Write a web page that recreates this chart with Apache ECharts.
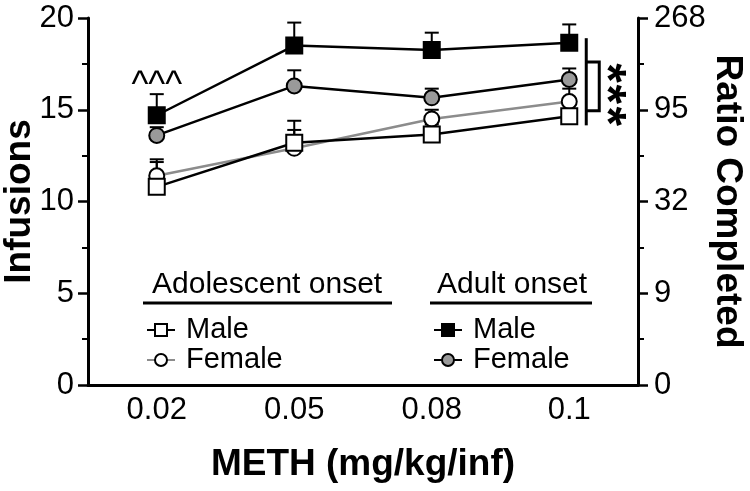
<!DOCTYPE html>
<html>
<head>
<meta charset="utf-8">
<script src="https://cdn.jsdelivr.net/npm/echarts@6/dist/echarts.min.js"></script>
<style>html,body{margin:0;padding:0;background:#fff;}#c{width:750px;height:491px;}</style>
</head>
<body>
<div id="c"></div>
<script>
const categories = ['0.02', '0.05', '0.08', '0.1'];
const adolMale = [10.8, 13.2, 13.65, 14.65];
const adolMaleErr = [1.35, 1.2, 0.55, 0.9];
const adolFemale = [11.4, 12.9, 14.5, 15.45];
const adolFemaleErr = [0.9, 1.0, 0.5, 0.7];
const adultMale = [14.7, 18.5, 18.25, 18.65];
const adultMaleErr = [1.15, 1.25, 0.95, 1.0];
const adultFemale = [13.6, 16.3, 15.65, 16.65];
const adultFemaleErr = [0.45, 0.85, 0.5, 0.6];
const leftTickValues = [0, 5, 10, 15, 20];
const rightTickLabels = ['0', '9', '32', '95', '268'];
const caretValue = 16.3;            // "^^^" annotation height (0.02)
const bracketOuter = [18.9, 14.15]; // long bracket range at 0.1
const bracketInner = [17.6, 14.95]; // inner bracket range at 0.1
const starValues = [17.0, 15.85, 14.65];

const FONT = "'Liberation Sans', Arial, Helvetica, sans-serif";

function errSeries(vals, errs) {
  return {
    type: 'custom',
    z: 1,
    silent: true,
    data: categories.map((c, i) => [i, vals[i], errs[i]]),
    renderItem: function (params, api) {
      const i = api.value(0), v = api.value(1), e = api.value(2);
      const p0 = api.coord([i, v]);
      const p1 = api.coord([i, v + e]);
      return {
        type: 'group',
        children: [
          { type: 'line', shape: { x1: p0[0], y1: p0[1], x2: p1[0], y2: p1[1] }, style: { stroke: '#000', lineWidth: 2 } },
          { type: 'line', shape: { x1: p1[0] - 7, y1: p1[1], x2: p1[0] + 7, y2: p1[1] }, style: { stroke: '#000', lineWidth: 2 } }
        ]
      };
    }
  };
}

function lineSeries(name, vals, symbol, size, fill, lineColor) {
  return {
    name: name,
    type: 'line',
    z: 3,
    data: vals,
    symbol: symbol,
    symbolSize: size,
    showAllSymbol: true,
    lineStyle: { color: lineColor, width: 2.5 },
    itemStyle: { color: fill, borderColor: '#000', borderWidth: 2 },
    emphasis: { disabled: true },
    animation: false
  };
}

const chart = echarts.init(document.getElementById('c'));
const axisLineStyle = { color: '#000', width: 3 };
const option = {
  animation: false,
  textStyle: { fontFamily: FONT },
  grid: { left: 88, right: 112, top: 18, bottom: 106, containLabel: false, outerBoundsMode: 'none' },
  xAxis: {
    type: 'category',
    data: categories,
    boundaryGap: true,
    axisLine: { lineStyle: axisLineStyle },
    axisTick: { alignWithLabel: true, length: 9, lineStyle: { color: '#000', width: 2.5 } },
    axisLabel: { fontSize: 31, color: '#000', margin: 10, fontFamily: FONT },
    name: 'METH (mg/kg/inf)',
    nameLocation: 'middle',
    nameGap: 61,
    nameTextStyle: { fontSize: 37, fontWeight: 'bold', color: '#000', fontFamily: FONT }
  },
  yAxis: [
    {
      type: 'value', min: 0, max: 20, interval: 5,
      axisLine: { show: true, lineStyle: axisLineStyle },
      axisTick: { show: true, length: 10, lineStyle: { color: '#000', width: 2.5 } },
      minorTick: { show: true, splitNumber: 2, length: 6, lineStyle: { color: '#000', width: 2 } },
      splitLine: { show: false },
      axisLabel: { fontSize: 31, color: '#000', margin: 14, fontFamily: FONT,
        formatter: v => leftTickValues.indexOf(v) >= 0 ? String(v) : '' },
      name: 'Infusions',
      nameLocation: 'middle',
      nameRotate: 90,
      nameGap: 50,
      nameMoveOverlap: false,
      nameTextStyle: { fontSize: 37, fontWeight: 'bold', color: '#000', fontFamily: FONT }
    },
    {
      type: 'value', min: 0, max: 20, interval: 5, position: 'right',
      axisLine: { show: true, lineStyle: axisLineStyle },
      axisTick: { show: true, length: 10, lineStyle: { color: '#000', width: 2.5 } },
      minorTick: { show: true, splitNumber: 2, length: 6, lineStyle: { color: '#000', width: 2 } },
      splitLine: { show: false },
      axisLabel: { fontSize: 31, color: '#000', margin: 16, fontFamily: FONT,
        formatter: v => rightTickLabels[leftTickValues.indexOf(v)] || '' },
      name: 'Ratio Completed',
      nameLocation: 'middle',
      nameRotate: -90,
      nameGap: 71,
      nameMoveOverlap: false,
      nameTextStyle: { fontSize: 37, fontWeight: 'bold', color: '#000', fontFamily: FONT }
    }
  ],
  legend: [
    {
      data: ['Adolescent Male', 'Adolescent Female'],
      orient: 'vertical', left: 141, top: 310,
      itemWidth: 28, itemHeight: 15, itemGap: 0,
      selectedMode: false,
      formatter: n => n.split(' ')[1],
      textStyle: { fontSize: 29, color: '#000', lineHeight: 30, padding: [0, 0, 0, 6], fontFamily: FONT }
    },
    {
      data: ['Adult Male', 'Adult Female'],
      orient: 'vertical', left: 428, top: 310,
      itemWidth: 28, itemHeight: 15, itemGap: 0,
      selectedMode: false,
      formatter: n => n.split(' ')[1],
      textStyle: { fontSize: 29, color: '#000', lineHeight: 30, padding: [0, 0, 0, 6], fontFamily: FONT }
    }
  ],
  series: [
    errSeries(adolMale, adolMaleErr),
    errSeries(adolFemale, adolFemaleErr),
    errSeries(adultMale, adultMaleErr),
    errSeries(adultFemale, adultFemaleErr),
    lineSeries('Adolescent Female', adolFemale, 'circle', 15, '#fff', '#8c8c8c'),
    lineSeries('Adolescent Male', adolMale, 'rect', 16, '#fff', '#000'),
    lineSeries('Adult Female', adultFemale, 'circle', 15, '#9a9a9a', '#000'),
    lineSeries('Adult Male', adultMale, 'rect', 16, '#000', '#000')
  ]
};
chart.setOption(option);

// annotations positioned from data coordinates
const last = categories.length - 1;
const px = (i, v) => chart.convertToPixel({ gridIndex: 0 }, [i, v]);
const c0 = px(0, caretValue);
const o1 = px(last, bracketOuter[0]), o2 = px(last, bracketOuter[1]);
const i1 = px(last, bracketInner[0]), i2 = px(last, bracketInner[1]);
const bx = o1[0] + 17;
const graphics = [
  { type: 'text', x: c0[0], y: c0[1], style: { text: '^^^', fontSize: 36, fontFamily: FONT, fill: '#000', align: 'center', verticalAlign: 'middle' } },
  { type: 'line', shape: { x1: bx, y1: o1[1], x2: bx, y2: o2[1] }, style: { stroke: '#000', lineWidth: 3 } },
  { type: 'polyline', shape: { points: [[bx, i1[1]], [bx + 13, i1[1]], [bx + 13, i2[1]], [bx, i2[1]]] }, style: { stroke: '#000', lineWidth: 3, fill: null } },
  { type: 'text', left: 152, top: 270, style: { text: 'Adolescent onset', fontSize: 30, fontFamily: FONT, fill: '#000' } },
  { type: 'line', shape: { x1: 143, y1: 303, x2: 392, y2: 303 }, style: { stroke: '#000', lineWidth: 3 } },
  { type: 'text', left: 437, top: 270, style: { text: 'Adult onset', fontSize: 30, fontFamily: FONT, fill: '#000' } },
  { type: 'line', shape: { x1: 430, y1: 303, x2: 592, y2: 303 }, style: { stroke: '#000', lineWidth: 3 } }
];
starValues.forEach(v => {
  const p = px(last, v);
  graphics.push({ type: 'text', x: bx + 19, y: p[1], rotation: -Math.PI / 2,
    style: { text: '*', fontSize: 50, fontWeight: 'bold', fontFamily: FONT, fill: '#000', align: 'center', verticalAlign: 'middle' } });
});
chart.setOption({ graphic: graphics });
</script>
</body>
</html>
